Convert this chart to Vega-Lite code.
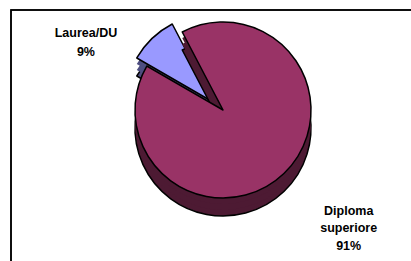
{
  "$schema": "https://vega.github.io/schema/vega-lite/v6.json",
  "width": 420,
  "height": 270,
  "autosize": {"type": "none"},
  "padding": {"left": 11, "top": 10, "right": 0, "bottom": 0},
  "background": "white",
  "config": {"view": {"stroke": "black", "strokeWidth": 1.5}},
  "data": {"values": [
    {"cat": "Laurea/DU", "value": 9, "idx": 1, "label": "Laurea/DU\n9%"},
    {"cat": "Diploma superiore", "value": 91, "idx": 2, "label": "Diploma\nsuperiore\n91%"}
  ]},
  "transform": [{"stack": "value", "groupby": [], "sort": [{"field": "idx", "order": "ascending"}], "as": ["v0", "v1"]}],
  "layer": [
    {"mark": {"type": "rect", "fill": null, "stroke": "black", "strokeWidth": 1.5}, "encoding": {}},
    {"transform": [{"filter": "datum.cat=='Laurea/DU'"}],
     "mark": {"type": "arc", "radius": 88, "xOffset": -8, "yOffset": -25, "fill": "#4D4D80", "stroke": "black", "strokeWidth": 1.5, "strokeJoin": "round"},
     "encoding": {"theta": {"field": "v0", "type": "quantitative", "scale": {"domain": [0, 100], "range": [5.236, 11.519]}}, "theta2": {"field": "v1"}}},
    {"transform": [{"filter": "datum.cat=='Laurea/DU'"}],
     "mark": {"type": "arc", "radius": 88, "xOffset": -8, "yOffset": -31, "fill": "#4D4D80"},
     "encoding": {"theta": {"field": "v0", "type": "quantitative"}, "theta2": {"field": "v1"}}},
    {"transform": [{"filter": "datum.cat=='Laurea/DU'"}],
     "mark": {"type": "arc", "radius": 88, "xOffset": -8, "yOffset": -37, "fill": "#4D4D80"},
     "encoding": {"theta": {"field": "v0", "type": "quantitative"}, "theta2": {"field": "v1"}}},
    {"transform": [{"filter": "datum.cat=='Laurea/DU'"}],
     "mark": {"type": "arc", "radius": 88, "xOffset": -8, "yOffset": -43, "fill": "#9999FF", "stroke": "black", "strokeWidth": 1.5, "strokeJoin": "round"},
     "encoding": {"theta": {"field": "v0", "type": "quantitative"}, "theta2": {"field": "v1"}}},
    {"transform": [{"filter": "datum.cat=='Diploma superiore'"}],
     "mark": {"type": "arc", "radius": 88, "xOffset": 2, "yOffset": -17, "fill": "#4D1A33", "stroke": "black", "strokeWidth": 1.5, "strokeJoin": "round"},
     "encoding": {"theta": {"field": "v0", "type": "quantitative"}, "theta2": {"field": "v1"}}},
    {"transform": [{"filter": "datum.cat=='Diploma superiore'"}],
     "mark": {"type": "arc", "radius": 88, "xOffset": 2, "yOffset": -23, "fill": "#4D1A33"},
     "encoding": {"theta": {"field": "v0", "type": "quantitative"}, "theta2": {"field": "v1"}}},
    {"transform": [{"filter": "datum.cat=='Diploma superiore'"}],
     "mark": {"type": "arc", "radius": 88, "xOffset": 2, "yOffset": -29, "fill": "#4D1A33"},
     "encoding": {"theta": {"field": "v0", "type": "quantitative"}, "theta2": {"field": "v1"}}},
    {"transform": [{"filter": "datum.cat=='Diploma superiore'"}],
     "mark": {"type": "arc", "radius": 88, "xOffset": 2, "yOffset": -35, "fill": "#993366", "stroke": "black", "strokeWidth": 1.5, "strokeJoin": "round"},
     "encoding": {"theta": {"field": "v0", "type": "quantitative"}, "theta2": {"field": "v1"}}},
    {"mark": {"type": "text", "radius": 120, "xOffset": 2, "yOffset": -35, "dx": -54, "dy": 10, "font": "Liberation Sans", "fontWeight": "bold", "fontSize": 12.5, "lineBreak": "\n", "lineHeight": 18.5, "align": "center", "baseline": "middle", "fill": "black"},
     "encoding": {"theta": {"field": "value", "type": "quantitative", "stack": true}, "order": {"field": "idx"}, "text": {"field": "label"},
       "opacity": {"condition": {"test": "datum.cat=='Laurea/DU'", "value": 1}, "value": 0}}},
    {"mark": {"type": "text", "radius": 170, "xOffset": 2, "yOffset": -35, "dx": 8, "dy": -22, "font": "Liberation Sans", "fontWeight": "bold", "fontSize": 12.5, "lineBreak": "\n", "lineHeight": 17.5, "align": "center", "baseline": "middle", "fill": "black"},
     "encoding": {"theta": {"field": "value", "type": "quantitative", "stack": true}, "order": {"field": "idx"}, "text": {"field": "label"},
       "opacity": {"condition": {"test": "datum.cat=='Diploma superiore'", "value": 1}, "value": 0}}}
  ]
}
